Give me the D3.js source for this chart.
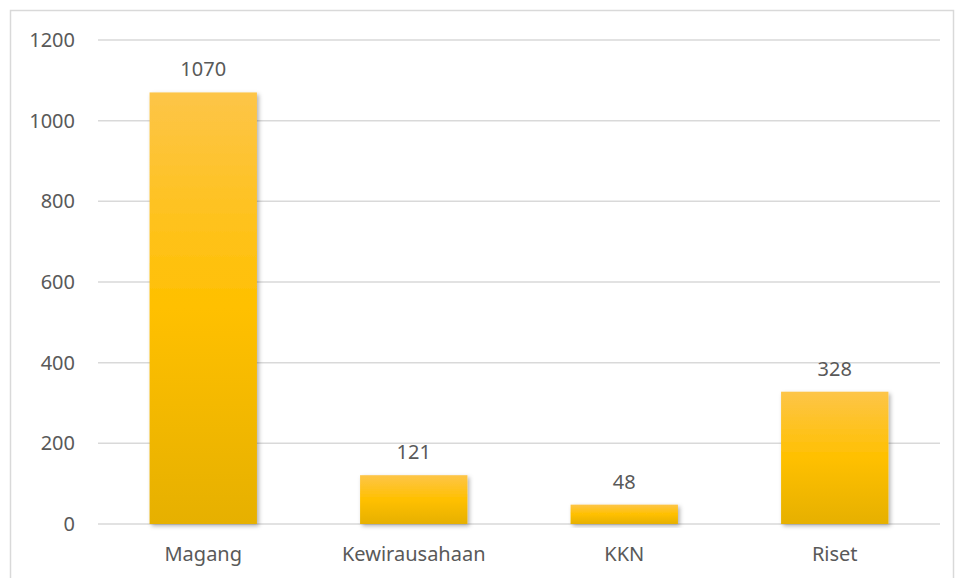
<!DOCTYPE html>
<html>
<head>
<meta charset="utf-8">
<script src="https://cdn.jsdelivr.net/npm/d3@7"></script>
<style>
  body { margin: 0; background: white; }
  #chart { width: 957px; height: 578px; }
</style>
</head>
<body>
<div id="chart"></div>
<script>
// chart values
const categories = ["Magang", "Kewirausahaan", "KKN", "Riset"];
const values = [1070, 121, 48, 328];
const yTicks = [0, 200, 400, 600, 800, 1000, 1200];

const textColor = '#595959';
const gridColor = '#d9d9d9';

const W = 957, H = 578;
const margin = { top: 40, right: 17, bottom: 54, left: 98 };
const width = W - margin.left - margin.right;
const height = H - margin.top - margin.bottom;

const root = d3.select("#chart").append("svg")
    .attr("width", W)
    .attr("height", H);

// outer chart border
root.append("rect")
    .attr("x", 10.5).attr("y", 10.5)
    .attr("width", W - 14).attr("height", H)
    .attr("fill", "white")
    .attr("stroke", gridColor).attr("stroke-width", 1.5);

const defs = root.append("defs");
const grad = defs.append("linearGradient")
    .attr("id", "barFill")
    .attr("x1", 0).attr("y1", 0).attr("x2", 0).attr("y2", 1);
grad.append("stop").attr("offset", "0%").attr("stop-color", "#fdc548");
grad.append("stop").attr("offset", "50%").attr("stop-color", "#ffc000");
grad.append("stop").attr("offset", "100%").attr("stop-color", "#e6b000");

const shadow = defs.append("filter").attr("id", "shadow")
    .attr("x", "-20%").attr("y", "-20%").attr("width", "140%").attr("height", "140%");
shadow.append("feDropShadow")
    .attr("dx", 2).attr("dy", 2).attr("stdDeviation", 2)
    .attr("flood-color", "#000").attr("flood-opacity", 0.3);

const svg = root.append("g")
    .attr("transform", `translate(${margin.left}, ${margin.top})`);

const x = d3.scaleBand().domain(categories).range([0, width]).paddingInner(0.49).paddingOuter(0.245);
const y = d3.scaleLinear().domain([0, 1200]).range([height, 0]);

// gridlines
svg.append("g")
    .selectAll("line").data(yTicks).enter().append("line")
    .attr("x1", 0).attr("x2", width)
    .attr("y1", d => y(d)).attr("y2", d => y(d))
    .attr("stroke", gridColor).attr("stroke-width", 1.5);

// y axis labels
const yAxis = svg.append("g").call(d3.axisLeft(y).tickValues(yTicks).tickFormat(d3.format("d")).tickSize(0).tickPadding(23));
yAxis.select(".domain").remove();
yAxis.selectAll("text")
    .style("fill", textColor).style("font-size", "20px").style("font-family", "'Noto Sans', sans-serif");

// x axis labels
const xAxis = svg.append("g").attr("transform", `translate(0, ${height})`)
    .call(d3.axisBottom(x).tickSize(0).tickPadding(23));
xAxis.select(".domain").remove();
xAxis.selectAll("text")
    .style("fill", textColor).style("font-size", "20px").style("font-family", "'Noto Sans', sans-serif");

const data = categories.map((c, i) => ({ label: c, value: values[i] }));

svg.selectAll(".bar").data(data).enter().append("rect")
    .attr("class", "bar")
    .attr("x", d => x(d.label))
    .attr("y", d => y(d.value))
    .attr("width", x.bandwidth())
    .attr("height", d => y(0) - y(d.value))
    .attr("fill", "url(#barFill)")
    .attr("filter", "url(#shadow)");

svg.selectAll(".val").data(data).enter().append("text")
    .attr("class", "val")
    .attr("x", d => x(d.label) + x.bandwidth() / 2)
    .attr("y", d => y(d.value) - 16)
    .attr("text-anchor", "middle")
    .style("fill", textColor).style("font-size", "20px").style("font-family", "'Noto Sans', sans-serif")
    .text(d => d.value);
</script>
</body>
</html>
